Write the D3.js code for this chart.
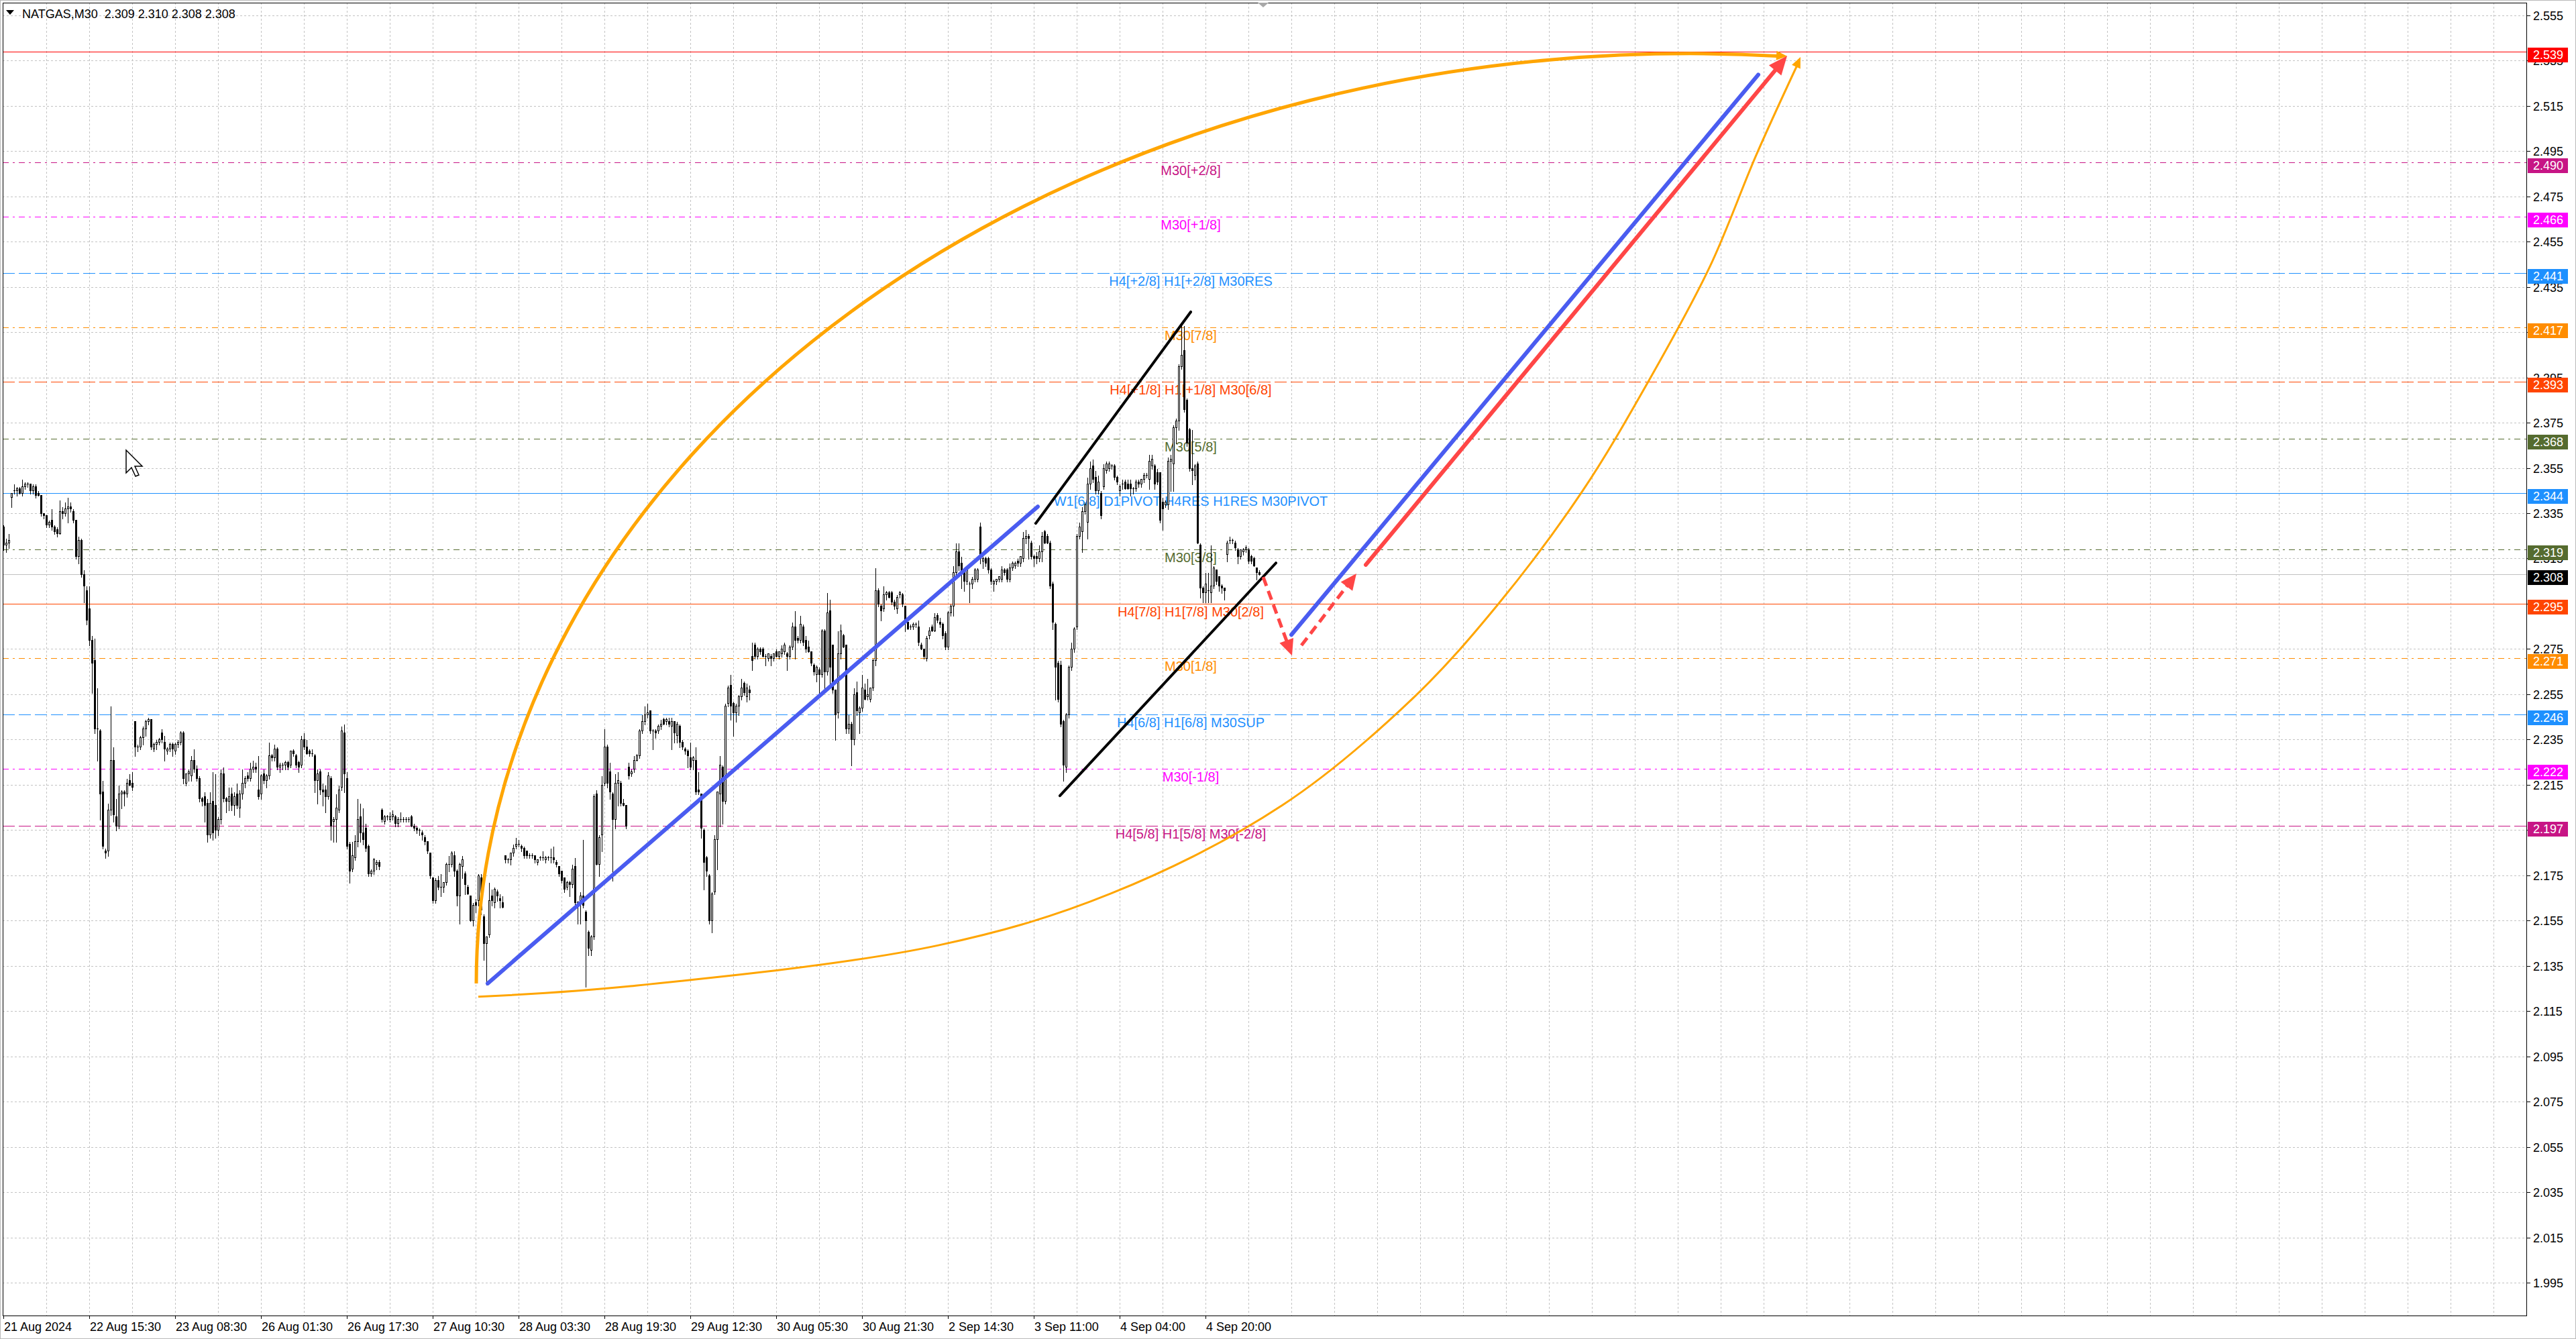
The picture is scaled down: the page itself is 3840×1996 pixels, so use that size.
<!DOCTYPE html>
<html>
<head>
<meta charset="utf-8">
<script src="https://cdn.jsdelivr.net/npm/d3@7"></script>
<style>
html, body { margin: 0; padding: 0; background: #fff; overflow: hidden; }
text { font-family: "Liberation Sans", Arial, sans-serif; }
</style>
</head>
<body>
<div id="chart"></div>
<script>
// NATGAS M30 bars, [open, high, low, close], oldest first
var bars = [
[2.329,2.330,2.319,2.321],[2.321,2.324,2.318,2.322],[2.322,2.326,2.320,2.323],[2.342,2.344,2.338,2.344],[2.345,2.348,2.344,2.345],
[2.345,2.347,2.343,2.346],[2.346,2.347,2.344,2.344],[2.344,2.350,2.343,2.347],[2.347,2.349,2.346,2.348],[2.348,2.349,2.347,2.348],
[2.348,2.348,2.344,2.345],[2.345,2.348,2.344,2.347],[2.347,2.348,2.342,2.343],[2.344,2.345,2.343,2.343],[2.343,2.343,2.334,2.335],
[2.335,2.335,2.333,2.334],[2.334,2.334,2.329,2.330],[2.330,2.332,2.329,2.331],[2.332,2.337,2.328,2.329],[2.329,2.330,2.326,2.327],
[2.328,2.329,2.325,2.326],[2.326,2.341,2.326,2.336],[2.336,2.338,2.333,2.335],[2.335,2.340,2.334,2.337],[2.337,2.342,2.331,2.338],
[2.338,2.340,2.336,2.337],[2.336,2.337,2.331,2.332],[2.332,2.332,2.315,2.316],[2.316,2.325,2.313,2.323],[2.323,2.324,2.307,2.308],
[2.308,2.310,2.296,2.303],[2.301,2.303,2.286,2.288],[2.293,2.303,2.277,2.279],[2.279,2.281,2.256,2.269],[2.270,2.280,2.238,2.240],
[2.240,2.258,2.226,2.240],[2.239,2.240,2.200,2.211],[2.212,2.217,2.187,2.188],[2.186,2.187,2.183,2.185],[2.186,2.207,2.184,2.204],
[2.204,2.250,2.202,2.226],[2.226,2.232,2.199,2.202],[2.201,2.209,2.195,2.197],[2.197,2.215,2.196,2.211],[2.211,2.213,2.205,2.212],
[2.212,2.213,2.206,2.211],[2.211,2.218,2.210,2.216],[2.217,2.220,2.215,2.215],[2.216,2.221,2.213,2.214],[2.243,2.243,2.228,2.232],
[2.232,2.233,2.230,2.232],[2.232,2.237,2.231,2.236],[2.236,2.241,2.233,2.240],[2.240,2.244,2.237,2.243],[2.243,2.245,2.242,2.244],
[2.244,2.244,2.231,2.232],[2.231,2.234,2.230,2.233],[2.233,2.235,2.231,2.234],[2.234,2.236,2.233,2.235],[2.238,2.240,2.234,2.235],
[2.234,2.237,2.226,2.231],[2.230,2.232,2.229,2.231],[2.231,2.234,2.230,2.233],[2.233,2.234,2.228,2.231],[2.230,2.234,2.229,2.233],
[2.233,2.235,2.232,2.234],[2.234,2.239,2.233,2.238],[2.238,2.239,2.216,2.218],[2.216,2.220,2.215,2.220],[2.220,2.222,2.217,2.221],
[2.219,2.228,2.217,2.226],[2.226,2.231,2.221,2.222],[2.222,2.224,2.217,2.218],[2.218,2.219,2.208,2.209],[2.209,2.210,2.206,2.208],
[2.210,2.212,2.199,2.206],[2.207,2.209,2.190,2.193],[2.193,2.212,2.192,2.207],[2.208,2.221,2.191,2.194],[2.206,2.220,2.192,2.195],
[2.195,2.201,2.193,2.200],[2.200,2.222,2.198,2.220],[2.220,2.223,2.208,2.209],[2.209,2.210,2.203,2.208],[2.208,2.214,2.204,2.210],
[2.211,2.214,2.204,2.206],[2.206,2.212,2.202,2.210],[2.211,2.216,2.205,2.206],[2.205,2.213,2.201,2.211],[2.211,2.222,2.209,2.216],
[2.216,2.219,2.214,2.218],[2.219,2.221,2.217,2.218],[2.218,2.225,2.217,2.222],[2.222,2.226,2.221,2.223],[2.223,2.225,2.221,2.222],
[2.213,2.228,2.209,2.210],[2.211,2.220,2.209,2.219],[2.220,2.222,2.216,2.217],[2.217,2.220,2.214,2.219],[2.219,2.234,2.218,2.228],
[2.228,2.229,2.226,2.227],[2.227,2.233,2.226,2.231],[2.231,2.232,2.222,2.223],[2.223,2.225,2.221,2.224],[2.224,2.225,2.222,2.224],
[2.224,2.226,2.222,2.225],[2.225,2.226,2.222,2.223],[2.224,2.230,2.223,2.230],[2.230,2.231,2.228,2.229],[2.228,2.229,2.223,2.224],
[2.225,2.226,2.221,2.223],[2.224,2.237,2.223,2.235],[2.235,2.238,2.231,2.232],[2.232,2.235,2.229,2.229],[2.230,2.231,2.228,2.229],
[2.229,2.231,2.228,2.229],[2.228,2.229,2.212,2.217],[2.217,2.222,2.207,2.220],[2.221,2.222,2.211,2.213],[2.213,2.216,2.206,2.212],
[2.213,2.215,2.203,2.210],[2.210,2.221,2.209,2.219],[2.218,2.219,2.191,2.197],[2.199,2.201,2.190,2.200],[2.200,2.211,2.190,2.205],
[2.204,2.215,2.203,2.213],[2.214,2.241,2.213,2.239],[2.238,2.242,2.212,2.220],[2.218,2.221,2.187,2.188],[2.189,2.190,2.172,2.177],
[2.178,2.190,2.177,2.184],[2.183,2.193,2.182,2.190],[2.190,2.209,2.188,2.200],[2.201,2.207,2.190,2.194],[2.194,2.205,2.189,2.191],
[2.196,2.198,2.186,2.187],[2.188,2.189,2.175,2.176],[2.176,2.178,2.175,2.177],[2.177,2.183,2.176,2.182],[2.180,2.182,2.178,2.181],
[2.181,2.182,2.178,2.179],[2.204,2.205,2.199,2.200],[2.199,2.202,2.198,2.201],[2.201,2.202,2.200,2.201],[2.200,2.203,2.199,2.201],
[2.201,2.204,2.200,2.202],[2.201,2.202,2.197,2.198],[2.198,2.201,2.197,2.200],[2.200,2.203,2.199,2.200],[2.200,2.201,2.199,2.200],
[2.200,2.201,2.199,2.200],[2.200,2.201,2.199,2.200],[2.201,2.202,2.197,2.197],[2.197,2.198,2.195,2.196],[2.196,2.197,2.194,2.195],
[2.195,2.196,2.193,2.195],[2.194,2.195,2.191,2.193],[2.192,2.193,2.189,2.190],[2.190,2.190,2.185,2.186],[2.185,2.185,2.174,2.175],
[2.174,2.174,2.163,2.164],[2.164,2.174,2.163,2.173],[2.173,2.175,2.169,2.170],[2.170,2.176,2.166,2.170],[2.170,2.172,2.168,2.172],
[2.172,2.181,2.171,2.180],[2.180,2.184,2.177,2.180],[2.180,2.186,2.179,2.185],[2.184,2.186,2.175,2.177],[2.177,2.178,2.162,2.166],
[2.166,2.181,2.154,2.180],[2.179,2.184,2.174,2.182],[2.176,2.177,2.167,2.171],[2.170,2.171,2.167,2.167],[2.166,2.166,2.155,2.155],
[2.155,2.163,2.153,2.162],[2.163,2.165,2.159,2.162],[2.164,2.176,2.162,2.175],[2.174,2.176,2.158,2.160],[2.157,2.158,2.138,2.145],
[2.145,2.148,2.127,2.148],[2.149,2.172,2.148,2.164],[2.166,2.169,2.162,2.164],[2.163,2.170,2.161,2.169],[2.168,2.169,2.164,2.166],
[2.165,2.167,2.161,2.164],[2.163,2.166,2.161,2.161],[2.184,2.184,2.181,2.182],[2.182,2.183,2.181,2.182],[2.182,2.185,2.180,2.185],
[2.185,2.189,2.184,2.187],[2.188,2.192,2.187,2.189],[2.189,2.191,2.188,2.189],[2.188,2.189,2.186,2.187],[2.187,2.188,2.183,2.184],
[2.186,2.186,2.183,2.184],[2.184,2.185,2.183,2.184],[2.184,2.185,2.183,2.184],[2.184,2.184,2.181,2.182],[2.181,2.182,2.180,2.182],
[2.183,2.184,2.182,2.183],[2.183,2.186,2.182,2.183],[2.182,2.184,2.181,2.183],[2.183,2.184,2.182,2.183],[2.183,2.187,2.181,2.183],
[2.183,2.188,2.181,2.182],[2.181,2.182,2.179,2.180],[2.179,2.179,2.175,2.176],[2.177,2.177,2.172,2.173],[2.174,2.174,2.168,2.169],
[2.170,2.173,2.169,2.172],[2.172,2.173,2.166,2.171],[2.171,2.180,2.170,2.178],[2.179,2.183,2.162,2.163],[2.163,2.164,2.154,2.163],
[2.163,2.168,2.154,2.166],[2.166,2.191,2.161,2.162],[2.159,2.160,2.126,2.155],[2.150,2.151,2.140,2.143],[2.142,2.149,2.140,2.148],
[2.148,2.211,2.147,2.210],[2.211,2.213,2.180,2.180],[2.180,2.193,2.175,2.192],[2.193,2.219,2.186,2.215],[2.216,2.240,2.215,2.232],
[2.232,2.233,2.214,2.216],[2.221,2.225,2.209,2.212],[2.211,2.212,2.173,2.200],[2.200,2.220,2.196,2.216],[2.216,2.221,2.206,2.217],
[2.216,2.217,2.206,2.207],[2.207,2.209,2.206,2.206],[2.206,2.206,2.196,2.197],[2.223,2.225,2.218,2.219],[2.220,2.222,2.219,2.221],
[2.222,2.228,2.221,2.226],[2.226,2.229,2.226,2.228],[2.228,2.240,2.227,2.239],[2.239,2.246,2.238,2.243],[2.243,2.250,2.242,2.246],
[2.246,2.251,2.245,2.247],[2.248,2.248,2.238,2.239],[2.239,2.240,2.231,2.239],[2.239,2.240,2.236,2.238],[2.239,2.242,2.238,2.241],
[2.241,2.244,2.240,2.242],[2.244,2.245,2.242,2.242],[2.243,2.245,2.242,2.244],[2.243,2.245,2.241,2.242],[2.241,2.245,2.231,2.243],
[2.243,2.243,2.234,2.238],[2.237,2.243,2.234,2.242],[2.241,2.242,2.232,2.234],[2.234,2.235,2.231,2.232],[2.231,2.232,2.229,2.230],
[2.230,2.231,2.223,2.228],[2.227,2.234,2.222,2.223],[2.226,2.228,2.222,2.227],[2.226,2.232,2.211,2.212],[2.213,2.221,2.211,2.212],
[2.211,2.211,2.192,2.196],[2.195,2.196,2.169,2.181],[2.183,2.184,2.175,2.177],[2.175,2.176,2.154,2.155],[2.155,2.168,2.150,2.167],
[2.168,2.193,2.167,2.191],[2.191,2.212,2.178,2.212],[2.211,2.228,2.197,2.224],[2.223,2.224,2.198,2.208],[2.208,2.251,2.207,2.250],
[2.251,2.259,2.250,2.258],[2.259,2.264,2.244,2.250],[2.251,2.252,2.237,2.247],[2.247,2.251,2.243,2.250],[2.250,2.255,2.246,2.254],
[2.254,2.262,2.253,2.258],[2.260,2.261,2.255,2.256],[2.254,2.260,2.252,2.258],[2.257,2.259,2.253,2.256],[2.272,2.278,2.266,2.270],
[2.277,2.278,2.271,2.272],[2.272,2.276,2.271,2.275],[2.275,2.276,2.273,2.274],[2.275,2.276,2.272,2.272],[2.272,2.273,2.268,2.272],
[2.271,2.273,2.270,2.273],[2.272,2.273,2.268,2.271],[2.271,2.273,2.270,2.273],[2.274,2.275,2.272,2.272],[2.272,2.274,2.271,2.274],
[2.273,2.277,2.272,2.275],[2.274,2.278,2.273,2.277],[2.273,2.274,2.266,2.272],[2.272,2.277,2.271,2.276],[2.276,2.287,2.275,2.285],
[2.285,2.292,2.271,2.279],[2.280,2.281,2.278,2.279],[2.279,2.290,2.278,2.286],[2.285,2.286,2.277,2.278],[2.279,2.281,2.274,2.275],
[2.276,2.279,2.274,2.274],[2.274,2.274,2.268,2.269],[2.268,2.269,2.264,2.265],[2.264,2.268,2.261,2.267],[2.266,2.267,2.256,2.264],
[2.264,2.284,2.263,2.283],[2.283,2.284,2.258,2.265],[2.265,2.300,2.264,2.291],[2.292,2.297,2.258,2.267],[2.277,2.277,2.256,2.257],
[2.257,2.257,2.235,2.246],[2.247,2.283,2.245,2.273],[2.273,2.286,2.271,2.283],[2.281,2.282,2.276,2.276],[2.277,2.277,2.238,2.240],
[2.240,2.246,2.238,2.242],[2.242,2.243,2.224,2.235],[2.235,2.258,2.233,2.255],[2.256,2.261,2.246,2.248],[2.247,2.250,2.238,2.249],
[2.249,2.264,2.248,2.258],[2.257,2.260,2.253,2.253],[2.254,2.262,2.253,2.255],[2.253,2.258,2.252,2.258],[2.258,2.271,2.257,2.270],
[2.270,2.311,2.268,2.301],[2.301,2.302,2.294,2.295],[2.294,2.295,2.288,2.292],[2.293,2.303,2.292,2.299],[2.299,2.301,2.297,2.300],
[2.300,2.301,2.298,2.298],[2.300,2.301,2.295,2.296],[2.296,2.297,2.293,2.294],[2.293,2.299,2.291,2.298],[2.299,2.301,2.298,2.300],
[2.299,2.300,2.294,2.295],[2.294,2.294,2.283,2.287],[2.287,2.287,2.284,2.284],[2.285,2.286,2.284,2.285],[2.285,2.287,2.284,2.286],
[2.286,2.287,2.285,2.286],[2.285,2.288,2.277,2.278],[2.277,2.278,2.275,2.275],[2.275,2.275,2.271,2.272],[2.271,2.281,2.270,2.280],
[2.281,2.285,2.280,2.283],[2.285,2.286,2.283,2.283],[2.283,2.291,2.283,2.289],[2.290,2.291,2.287,2.288],[2.287,2.289,2.285,2.286],
[2.286,2.287,2.280,2.281],[2.282,2.283,2.275,2.276],[2.276,2.292,2.275,2.291],[2.291,2.295,2.290,2.294],[2.294,2.312,2.290,2.309],
[2.309,2.322,2.308,2.318],[2.318,2.322,2.310,2.312],[2.313,2.316,2.302,2.309],[2.310,2.311,2.301,2.305],[2.305,2.311,2.304,2.310],
[2.304,2.305,2.296,2.304],[2.304,2.307,2.302,2.306],[2.306,2.311,2.305,2.310],[2.306,2.311,2.305,2.310],[2.329,2.331,2.313,2.315],
[2.314,2.316,2.311,2.315],[2.315,2.316,2.312,2.313],[2.315,2.316,2.309,2.310],[2.310,2.311,2.304,2.305],[2.304,2.306,2.301,2.305],
[2.305,2.306,2.304,2.306],[2.306,2.307,2.305,2.307],[2.306,2.312,2.305,2.310],[2.310,2.311,2.308,2.309],[2.310,2.311,2.305,2.306],
[2.306,2.313,2.305,2.311],[2.311,2.314,2.310,2.313],[2.312,2.314,2.311,2.313],[2.314,2.315,2.312,2.313],[2.313,2.316,2.312,2.316],
[2.315,2.327,2.314,2.324],[2.324,2.328,2.322,2.325],[2.325,2.326,2.315,2.324],[2.322,2.323,2.315,2.316],[2.316,2.317,2.312,2.315],
[2.316,2.318,2.313,2.315],[2.315,2.321,2.314,2.318],[2.318,2.327,2.314,2.325],[2.327,2.328,2.322,2.322],[2.325,2.326,2.322,2.322],
[2.322,2.323,2.302,2.303],[2.304,2.305,2.284,2.287],[2.286,2.287,2.253,2.267],[2.269,2.270,2.252,2.253],[2.268,2.270,2.241,2.242],
[2.243,2.244,2.217,2.224],[2.223,2.247,2.221,2.246],[2.246,2.268,2.245,2.267],[2.267,2.278,2.266,2.275],[2.275,2.285,2.274,2.284],
[2.285,2.326,2.284,2.325],[2.325,2.331,2.324,2.329],[2.327,2.338,2.318,2.336],[2.336,2.340,2.335,2.339],[2.331,2.351,2.324,2.348],
[2.348,2.358,2.346,2.355],[2.356,2.359,2.349,2.350],[2.351,2.354,2.344,2.345],[2.345,2.352,2.344,2.349],[2.344,2.345,2.333,2.334],
[2.347,2.357,2.346,2.355],[2.354,2.358,2.353,2.357],[2.355,2.358,2.354,2.357],[2.356,2.357,2.355,2.356],[2.356,2.357,2.350,2.351],
[2.351,2.352,2.348,2.349],[2.345,2.348,2.343,2.347],[2.348,2.350,2.346,2.348],[2.349,2.350,2.346,2.346],[2.348,2.350,2.346,2.346],
[2.348,2.350,2.343,2.346],[2.346,2.347,2.344,2.346],[2.346,2.350,2.345,2.349],[2.349,2.350,2.347,2.348],[2.348,2.350,2.347,2.350],
[2.350,2.353,2.349,2.352],[2.352,2.353,2.351,2.352],[2.350,2.361,2.346,2.358],[2.356,2.361,2.355,2.359],[2.356,2.357,2.346,2.348],
[2.353,2.355,2.348,2.349],[2.353,2.353,2.331,2.332],[2.340,2.342,2.328,2.337],[2.339,2.341,2.338,2.340],[2.339,2.360,2.337,2.358],
[2.358,2.361,2.345,2.359],[2.357,2.374,2.345,2.373],[2.373,2.377,2.366,2.376],[2.376,2.401,2.372,2.400],[2.400,2.418,2.399,2.405],
[2.407,2.418,2.380,2.381],[2.385,2.386,2.365,2.366],[2.372,2.373,2.354,2.355],[2.355,2.372,2.348,2.354],[2.352,2.357,2.350,2.356],
[2.357,2.358,2.322,2.322],[2.321,2.322,2.298,2.302],[2.302,2.303,2.296,2.300],[2.300,2.309,2.296,2.304],[2.301,2.309,2.296,2.301],
[2.300,2.321,2.296,2.303],[2.303,2.312,2.302,2.311],[2.310,2.310,2.304,2.305],[2.307,2.307,2.301,2.303],[2.303,2.304,2.300,2.302],
[2.302,2.302,2.297,2.301],[2.317,2.323,2.314,2.322],[2.323,2.325,2.322,2.323],[2.323,2.324,2.322,2.323],[2.322,2.323,2.319,2.320],
[2.319,2.320,2.313,2.316],[2.316,2.319,2.315,2.319],[2.318,2.320,2.317,2.319],[2.319,2.321,2.318,2.320],[2.319,2.320,2.313,2.314],
[2.316,2.317,2.313,2.314],[2.315,2.316,2.312,2.312],[2.311,2.311,2.306,2.309],[2.309,2.310,2.308,2.308]
];

// price axis ticks
var priceTicks = [1.995, 2.015, 2.035, 2.055, 2.075, 2.095, 2.115, 2.135, 2.155, 2.175, 2.195, 2.215, 2.235, 2.255,
  2.275, 2.295, 2.315, 2.335, 2.355, 2.375, 2.395, 2.415, 2.435, 2.455, 2.475, 2.495, 2.515, 2.535, 2.555];

// time axis labels and the bar they sit on
var timeLabels = ["21 Aug 2024", "22 Aug 15:30", "23 Aug 08:30", "26 Aug 01:30", "26 Aug 17:30", "27 Aug 10:30",
  "28 Aug 03:30", "28 Aug 19:30", "29 Aug 12:30", "30 Aug 05:30", "30 Aug 21:30", "2 Sep 14:30", "3 Sep 11:00",
  "4 Sep 04:00", "4 Sep 20:00"];
var timeLabelBars = [0, 32, 64, 96, 128, 160, 192, 224, 256, 288, 320, 352, 384, 416, 448];

// murrey levels
var levelPrices = [2.490, 2.466, 2.441, 2.417, 2.393, 2.368, 2.344, 2.319, 2.295, 2.271, 2.246, 2.222, 2.197];
var levelNames = ["M30[+2/8]", "M30[+1/8]", "H4[+2/8] H1[+2/8] M30RES", "M30[7/8]", "H4[+1/8] H1[+1/8] M30[6/8]",
  "M30[5/8]", "W1[6/8] D1PIVOT H4RES H1RES M30PIVOT", "M30[3/8]", "H4[7/8] H1[7/8] M30[2/8]", "M30[1/8]",
  "H4[6/8] H1[6/8] M30SUP", "M30[-1/8]", "H4[5/8] H1[5/8] M30[-2/8]"];
var targetPrice = 2.539;
var bidPrice = 2.308;

// hand drawn objects, [bar index, price]
var upChannelLine = [[180.5, 2.1273], [385.5, 2.3379]];
var wedgeUpper = [[384.75, 2.3305], [442.5, 2.4239]];
var wedgeLower = [[393.75, 2.2102], [474.25, 2.3130]];
var dipArrow = [[469.5, 2.3068], [480.25, 2.2721]];
var bounceArrow = [[483.75, 2.2766], [504.25, 2.3083]];
var projBlue = [[480, 2.2813], [654, 2.5287]];
var projRed = [[507.75, 2.3122], [664.75, 2.5370]];
var arcStart = [176.25, 2.1273], arcTop = [628.75, 2.5382], arcEnd = [664.75, 2.5370];
var lowerCurve = [[177, 2.1214], [233.75, 2.1261], [348.75, 2.1442], [412.75, 2.1670], [476.75, 2.2061],
  [525.5, 2.2535], [557, 2.2947], [588.5, 2.3448], [613, 2.3931], [636, 2.4440], [653.25, 2.4932], [669.75, 2.5365]];
var labelBar = 442.5;

// ---- styles ----
var levelColor = ["#C71585", "#FF00FF", "#1E90FF", "#FF8C00", "#FF4500", "#556B2F", "#1E90FF", "#556B2F",
  "#FF4500", "#FF8C00", "#1E90FF", "#FF00FF", "#C71585"];
var DASH = "18,6", DASHDOT = "9,6,3,6";
var levelDash = [DASHDOT, DASHDOT, DASH, DASHDOT, DASH, DASHDOT, null, DASHDOT, null, DASHDOT, DASH, DASHDOT, DASH];

var W = 3840, H = 1996;
var plot = { left: 4, top: 4, right: 3766, bottom: 1961 };
var BLUE = "#4A5CF0", RED = "#FF4646", ORANGE = "#FFA500";

var x = d3.scaleLinear().domain([0, 100]).range([5, 405]);
var y = d3.scaleLinear().domain([1.9806, 2.5605]).range([plot.bottom, plot.top]);
var px = function(v) { return Math.round(v) + 0.5; };

var svg = d3.select("#chart").append("svg")
  .attr("width", W)
  .attr("height", H);

svg.append("rect").attr("width", W).attr("height", H).attr("fill", "#fff");
svg.append("rect")
  .attr("x", 0.5).attr("y", 0.5).attr("width", W - 1).attr("height", H - 1)
  .attr("fill", "none").attr("stroke", "#b9b9b9");

svg.append("clipPath").attr("id", "plotClip")
  .append("rect")
  .attr("x", plot.left).attr("y", plot.top)
  .attr("width", plot.right - plot.left).attr("height", plot.bottom - plot.top);

var g = svg.append("g").attr("clip-path", "url(#plotClip)");

// grid
var grid = g.append("g").attr("shape-rendering", "crispEdges")
  .attr("stroke", "#c3c3c3").attr("stroke-dasharray", "3,3");
grid.selectAll("line.h").data(priceTicks).enter().append("line")
  .attr("x1", plot.left).attr("x2", plot.right)
  .attr("y1", function(d) { return px(y(d)); })
  .attr("y2", function(d) { return px(y(d)); });
grid.selectAll("line.v").data(d3.range(16, 941, 16)).enter().append("line")
  .attr("y1", plot.top).attr("y2", plot.bottom)
  .attr("x1", function(d) { return px(x(d)); })
  .attr("x2", function(d) { return px(x(d)); });

// level lines
var lv = g.append("g").attr("shape-rendering", "crispEdges");
lv.selectAll("line").data(levelPrices).enter().append("line")
  .attr("x1", plot.left).attr("x2", plot.right)
  .attr("y1", function(d) { return px(y(d)); })
  .attr("y2", function(d) { return px(y(d)); })
  .attr("stroke", function(d, i) { return levelColor[i]; })
  .attr("stroke-dasharray", function(d, i) { return levelDash[i]; });
lv.append("line")
  .attr("x1", plot.left).attr("x2", plot.right)
  .attr("y1", px(y(targetPrice))).attr("y2", px(y(targetPrice)))
  .attr("stroke", "#FF0000");
lv.append("line")
  .attr("x1", plot.left).attr("x2", plot.right)
  .attr("y1", px(y(bidPrice))).attr("y2", px(y(bidPrice)))
  .attr("stroke", "#c0c0c0");

g.append("g").selectAll("text").data(levelPrices).enter().append("text")
  .attr("x", x(labelBar))
  .attr("y", function(d) { return y(d) + 19; })
  .attr("text-anchor", "middle")
  .style("font-size", "20px")
  .attr("fill", function(d, i) { return levelColor[i]; })
  .text(function(d, i) { return levelNames[i]; });

// candles
var cg = g.append("g").attr("shape-rendering", "crispEdges");
var candle = cg.selectAll("g").data(bars).enter().append("g");
candle.append("line")
  .attr("x1", function(d, i) { return px(x(i)); })
  .attr("x2", function(d, i) { return px(x(i)); })
  .attr("y1", function(d) { return px(y(d[1])); })
  .attr("y2", function(d) { return px(y(d[2])) + 1; })
  .attr("stroke", "#000");
candle.each(function(d, i) {
  var cx = px(x(i));
  var top = Math.round(y(Math.max(d[0], d[3])));
  var bot = Math.round(y(Math.min(d[0], d[3])));
  var sel = d3.select(this);
  if (bot - top < 1) {
    sel.append("line")
      .attr("x1", cx - 1.5).attr("x2", cx + 1.5)
      .attr("y1", top + 0.5).attr("y2", top + 0.5)
      .attr("stroke", "#000");
  } else {
    sel.append("rect")
      .attr("x", cx - 1).attr("y", top + 0.5)
      .attr("width", 2).attr("height", bot - top)
      .attr("fill", d[3] >= d[0] ? "#fff" : "#000")
      .attr("stroke", "#000");
  }
});

// drawings
var dg = g.append("g");

function arrowHead(sel, x1, y1, x2, y2, len, half, color) {
  var a = Math.atan2(y2 - y1, x2 - x1);
  var bx = x2 - len * Math.cos(a), by = y2 - len * Math.sin(a);
  var ox = -Math.sin(a) * half, oy = Math.cos(a) * half;
  sel.append("path")
    .attr("d", "M" + x2 + "," + y2 + "L" + (bx + ox) + "," + (by + oy) + "L" + (bx - ox) + "," + (by - oy) + "Z")
    .attr("fill", color);
}

function segment(pts, color, width, dash, head) {
  var x1 = x(pts[0][0]), y1 = y(pts[0][1]), x2 = x(pts[1][0]), y2 = y(pts[1][1]);
  var ex = x2, ey = y2;
  if (head) {
    var a = Math.atan2(y2 - y1, x2 - x1);
    ex = x2 - head[0] * 0.8 * Math.cos(a);
    ey = y2 - head[0] * 0.8 * Math.sin(a);
  }
  dg.append("line")
    .attr("x1", x1).attr("y1", y1).attr("x2", ex).attr("y2", ey)
    .attr("stroke", color).attr("stroke-width", width)
    .attr("stroke-linecap", dash ? "butt" : "round")
    .attr("stroke-dasharray", dash);
  if (head) arrowHead(dg, x1, y1, x2, y2, head[0], head[1], color);
}

// upper orange arc (quarter ellipse)
var acx = x(arcTop[0]), acy = y(arcStart[1]);
var arx = acx - x(arcStart[0]), ary = acy - y(arcTop[1]);
var aex = x(arcEnd[0]);
var aey = acy - ary * Math.sqrt(Math.max(0, 1 - Math.pow((aex - acx) / arx, 2)));
var apx = aex - 12;
var apy = acy - ary * Math.sqrt(Math.max(0, 1 - Math.pow((apx - acx) / arx, 2)));
dg.append("path")
  .attr("d", "M" + x(arcStart[0]) + "," + acy + " A" + arx + "," + ary + " 0 0 1 " + (aex - 10) + "," + aey)
  .attr("fill", "none").attr("stroke", ORANGE).attr("stroke-width", 5);
arrowHead(dg, apx, apy, aex, aey, 16, 7, ORANGE);

// lower orange curve
var lc = lowerCurve.map(function(d) { return [x(d[0]), y(d[1])]; });
var lcLast = lc[lc.length - 1], lcPrev = lc[lc.length - 2];
dg.append("path")
  .attr("d", d3.line().curve(d3.curveCatmullRom.alpha(0.5))(lc.slice(0, -1).concat([[lcLast[0] - 3, lcLast[1] + 8]])))
  .attr("fill", "none").attr("stroke", ORANGE).attr("stroke-width", 3);
arrowHead(dg, lcPrev[0], lcPrev[1], lcLast[0], lcLast[1], 16, 7, ORANGE);

segment(upChannelLine, BLUE, 6, null, null);
segment(wedgeUpper, "#000", 4, null, null);
segment(wedgeLower, "#000", 4, null, null);
segment(projBlue, BLUE, 6, null, null);
segment(projRed, RED, 6, null, [28, 12]);
segment(dipArrow, RED, 5, "14,8", [24, 11]);
segment(bounceArrow, RED, 5, "14,8", [24, 11]);

// frame
svg.append("rect")
  .attr("x", plot.left + 0.5).attr("y", plot.top + 0.5)
  .attr("width", plot.right - plot.left).attr("height", plot.bottom - plot.top)
  .attr("fill", "none").attr("stroke", "#000").attr("shape-rendering", "crispEdges");

// right price axis
var ya = svg.append("g").attr("shape-rendering", "crispEdges");
ya.selectAll("line").data(priceTicks).enter().append("line")
  .attr("x1", plot.right).attr("x2", plot.right + 6)
  .attr("y1", function(d) { return px(y(d)); })
  .attr("y2", function(d) { return px(y(d)); })
  .attr("stroke", "#000");
ya.selectAll("text").data(priceTicks).enter().append("text")
  .attr("x", plot.right + 10)
  .attr("y", function(d) { return y(d) + 7; })
  .style("font-size", "18px")
  .attr("fill", "#000")
  .text(function(d) { return d.toFixed(3); });

var boxPrices = levelPrices.concat([targetPrice, bidPrice]);
var boxColors = levelColor.concat(["#FF0000", "#000000"]);
var boxes = svg.append("g");
boxes.selectAll("rect").data(boxPrices).enter().append("rect")
  .attr("x", plot.right + 2).attr("y", function(d) { return Math.round(y(d)) - 6; })
  .attr("width", 60).attr("height", 22)
  .attr("fill", function(d, i) { return boxColors[i]; });
boxes.selectAll("text").data(boxPrices).enter().append("text")
  .attr("x", plot.right + 10)
  .attr("y", function(d) { return Math.round(y(d)) + 11; })
  .style("font-size", "18px")
  .attr("fill", "#fff")
  .text(function(d) { return d.toFixed(3); });

// bottom time axis
var xa = svg.append("g").attr("shape-rendering", "crispEdges");
xa.selectAll("line").data(timeLabelBars).enter().append("line")
  .attr("x1", function(d) { return px(x(d)); })
  .attr("x2", function(d) { return px(x(d)); })
  .attr("y1", plot.bottom).attr("y2", plot.bottom + 5)
  .attr("stroke", "#000");
xa.selectAll("text").data(timeLabelBars).enter().append("text")
  .attr("x", function(d) { return x(d) + 1; })
  .attr("y", plot.bottom + 23)
  .style("font-size", "18px")
  .attr("fill", "#000")
  .text(function(d, i) { return timeLabels[i]; });

// header
svg.append("path").attr("d", "M9,15 L21,15 L15,22 Z").attr("fill", "#000");
svg.append("text")
  .attr("x", 33).attr("y", 27)
  .style("font-size", "18px").style("white-space", "pre")
  .attr("fill", "#000")
  .text("NATGAS,M30  2.309 2.310 2.308 2.308");

// chart shift marker
svg.append("path")
  .attr("d", "M" + (x(469.5) - 8) + ",4 L" + (x(469.5) + 8) + ",4 L" + x(469.5) + ",11 Z")
  .attr("fill", "#a8a8a8");

// mouse pointer left on the chart
svg.append("path")
  .attr("transform", "translate(188,671)")
  .attr("d", "M0,0 L0,34 L8,26 L14,39 L19,37 L13,24 L24,24 Z")
  .attr("fill", "#fff").attr("stroke", "#000").attr("stroke-width", 1.5).attr("stroke-linejoin", "miter");
</script>
</body>
</html>
